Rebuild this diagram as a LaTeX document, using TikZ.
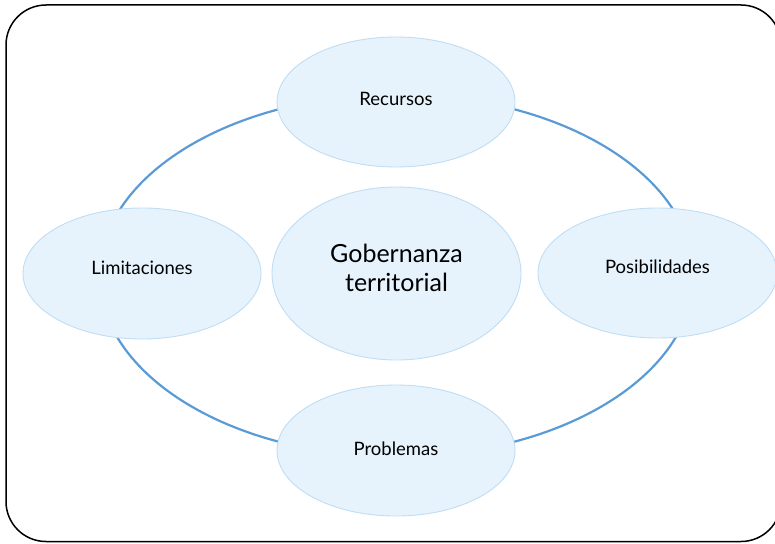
\documentclass[tikz,border=0pt]{standalone}
\usepackage{fontspec}
\setmainfont{Lato}
\usetikzlibrary{shapes.geometric}
\definecolor{bubfill}{HTML}{E6F3FC}
\definecolor{bubline}{HTML}{BFDDF4}
\definecolor{ringcol}{HTML}{5B9BD5}
\tikzset{
  bub/.style={ellipse, draw=bubline, fill=bubfill, line width=0.9pt, inner sep=0pt},
  lbl/.style={font=\fontsize{18.5}{22}\selectfont, text=black, inner sep=0pt},
  biglbl/.style={font=\fontsize{25}{29}\selectfont, text=black, inner sep=0pt, align=center},
}
\begin{document}
\begin{tikzpicture}[x=1pt,y=-1pt]
\useasboundingbox (0,0) rectangle (775,543);
% outer frame
\draw[line width=1.5pt, rounded corners=40pt] (6,5) rectangle (781,541.5);
% ring
\draw[ringcol, line width=2.2pt] (396.5,275.5) ellipse [x radius=297, y radius=181];
% bubbles
\node[bub, minimum width=238, minimum height=130] (rec) at (396,102) {};
\node[bub, minimum width=238, minimum height=131] (lim) at (142,273.5) {};
\node[bub, minimum width=239, minimum height=130] (pos) at (657.5,273) {};
\node[bub, minimum width=238, minimum height=131] (pro) at (396,450.5) {};
\node[bub, minimum width=249, minimum height=173] (gob) at (396.5,273.5) {};
% labels
\node[lbl] (rect) at (rec.center) [yshift=3pt] {Recursos};
\node[lbl] (limt) at (lim.center) [yshift=6pt] {Limitaciones};
\node[lbl] (post) at (pos.center) [yshift=6pt] {Posibilidades};
\node[lbl] (prot) at (pro.center) [yshift=1.5pt] {Problemas};
\node[biglbl] (gobt) at (gob.center) [yshift=6pt] {Gobernanza\\territorial};
\end{tikzpicture}
\end{document}
